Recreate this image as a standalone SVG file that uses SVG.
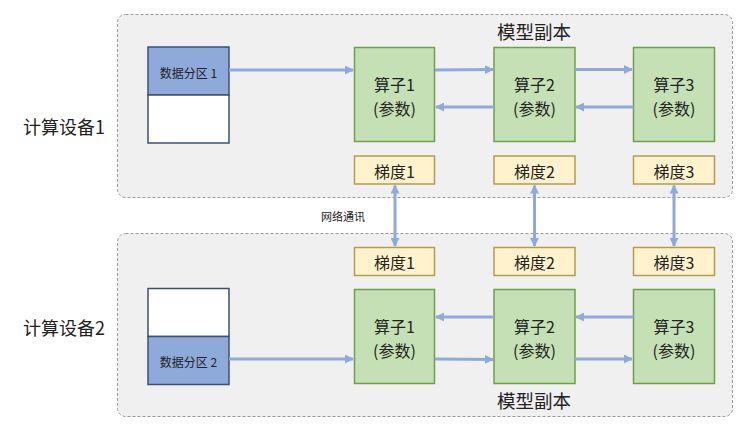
<svg xmlns="http://www.w3.org/2000/svg" width="742" height="431" viewBox="0 0 742 431">
<defs>
<style>
text{font-family:"Noto Sans CJK SC","Noto Sans",sans-serif;fill:#222;text-anchor:middle;dominant-baseline:central}
.ct{fill:#f0f0f0;stroke:#9a9a9a;stroke-width:1;stroke-dasharray:3 2}
.op{fill:#c5e0b4;stroke:#6f9e4e;stroke-width:1.5}
.gr{fill:#fff2cc;stroke:#b89a4e;stroke-width:1.5}
.db{fill:#8eaadb;stroke:#3b5170;stroke-width:1.5}
.dw{fill:#fff;stroke:#3b5170;stroke-width:1.5}
.ln{stroke:#8eaadb;stroke-width:3;fill:none}
.big{font-size:18px}
.t18{font-size:18.5px}
.t16{font-size:16px}
.t15{font-size:16px}
.t12{font-size:12px}
.t11{font-size:11px}
</style>
<marker id="ah" viewBox="0 0 10 10" refX="9" refY="5" markerWidth="3" markerHeight="3" orient="auto-start-reverse" markerUnits="strokeWidth">
<path d="M0,0 L10,5 L0,10 z" fill="#8eaadb"/>
</marker>
</defs>
<rect width="742" height="431" fill="#fff"/>

<g id="device1">
<rect class="ct" x="117.5" y="14.5" width="615" height="183" rx="8"/>
<text class="big" x="64" y="126">计算设备1</text>
<text class="t18" x="534" y="31">模型副本</text>
</g>
<g id="device2">
<rect class="ct" x="117.5" y="233.5" width="615" height="183" rx="8"/>
<text class="big" x="64" y="327">计算设备2</text>
<text class="t18" x="534" y="400">模型副本</text>
</g>

<g id="data1">
<rect class="db" x="148" y="47" width="81" height="48"/>
<rect class="dw" x="148" y="95" width="81" height="48"/>
<text class="t12" x="188.5" y="72">数据分区 1</text>
</g>
<g id="data2">
<rect class="dw" x="148" y="288.5" width="81" height="48"/>
<rect class="db" x="148" y="336.5" width="81" height="48"/>
<text class="t12" x="188.5" y="361">数据分区 2</text>
</g>

<g id="op1a"><rect class="op" x="354.5" y="47.5" width="80" height="94"/><text class="t16" x="394.5" y="84">算子1</text><text class="t16" x="394.5" y="107.5">(参数)</text></g>
<g id="op2a"><rect class="op" x="494" y="47.5" width="81" height="94"/><text class="t16" x="534.5" y="84">算子2</text><text class="t16" x="534.5" y="107.5">(参数)</text></g>
<g id="op3a"><rect class="op" x="633.5" y="47.5" width="81" height="94"/><text class="t16" x="674" y="84">算子3</text><text class="t16" x="674" y="107.5">(参数)</text></g>
<g id="g1a"><rect class="gr" x="354.5" y="156" width="80" height="28"/><text class="t15" x="394.5" y="170.5">梯度1</text></g>
<g id="g2a"><rect class="gr" x="494" y="156" width="81" height="28"/><text class="t15" x="534.5" y="170.5">梯度2</text></g>
<g id="g3a"><rect class="gr" x="633.5" y="156" width="81" height="28"/><text class="t15" x="674" y="170.5">梯度3</text></g>

<g id="op1b"><rect class="op" x="354.5" y="289.5" width="80" height="94"/><text class="t16" x="394.5" y="326">算子1</text><text class="t16" x="394.5" y="349.5">(参数)</text></g>
<g id="op2b"><rect class="op" x="494" y="289.5" width="81" height="94"/><text class="t16" x="534.5" y="326">算子2</text><text class="t16" x="534.5" y="349.5">(参数)</text></g>
<g id="op3b"><rect class="op" x="633.5" y="289.5" width="81" height="94"/><text class="t16" x="674" y="326">算子3</text><text class="t16" x="674" y="349.5">(参数)</text></g>
<g id="g1b"><rect class="gr" x="354.5" y="247.5" width="80" height="28"/><text class="t15" x="394.5" y="262">梯度1</text></g>
<g id="g2b"><rect class="gr" x="494" y="247.5" width="81" height="28"/><text class="t15" x="534.5" y="262">梯度2</text></g>
<g id="g3b"><rect class="gr" x="633.5" y="247.5" width="81" height="28"/><text class="t15" x="674" y="262">梯度3</text></g>

<g id="connectors">
<line class="ln" x1="229" y1="70" x2="353" y2="70" marker-end="url(#ah)"/>
<line class="ln" x1="435" y1="70" x2="493" y2="69.5" marker-end="url(#ah)"/>
<line class="ln" x1="575" y1="69.5" x2="632" y2="69.5" marker-end="url(#ah)"/>
<line class="ln" x1="494" y1="107" x2="436" y2="107" marker-end="url(#ah)"/>
<line class="ln" x1="633.5" y1="107" x2="576" y2="107" marker-end="url(#ah)"/>

<line class="ln" x1="229" y1="359" x2="353" y2="359" marker-end="url(#ah)"/>
<line class="ln" x1="435" y1="359" x2="493" y2="359.5" marker-end="url(#ah)"/>
<line class="ln" x1="575" y1="359" x2="632" y2="359" marker-end="url(#ah)"/>
<line class="ln" x1="494" y1="317" x2="436" y2="317" marker-end="url(#ah)"/>
<line class="ln" x1="633.5" y1="317" x2="576" y2="317" marker-end="url(#ah)"/>

<line class="ln" x1="395" y1="185.5" x2="395" y2="246" marker-start="url(#ah)" marker-end="url(#ah)"/>
<line class="ln" x1="534.5" y1="185.5" x2="534.5" y2="246" marker-start="url(#ah)" marker-end="url(#ah)"/>
<line class="ln" x1="674" y1="185.5" x2="674" y2="246" marker-start="url(#ah)" marker-end="url(#ah)"/>
<text class="t11" x="343" y="216">网络通讯</text>
</g>
</svg>
